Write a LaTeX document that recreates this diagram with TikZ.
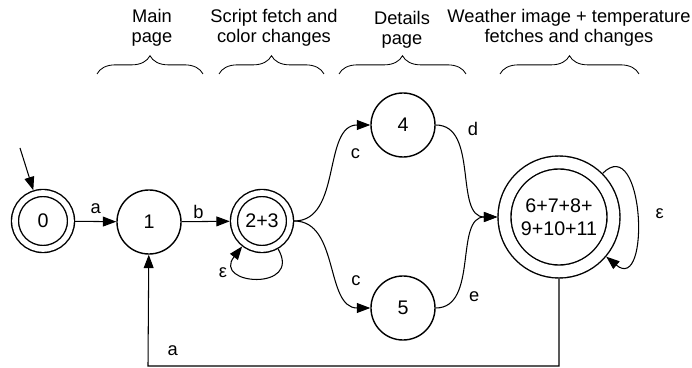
\documentclass[tikz,border=0pt]{standalone}
\usepackage{fontspec}
\setmainfont{Liberation Sans}
\usetikzlibrary{arrows.meta,decorations.pathreplacing}

\begin{document}
\begin{tikzpicture}[x=0.025cm, y=0.025cm,
		>={Triangle[length=9.5pt,width=7pt]},
		node_style/.style={circle,draw=black,line width=1pt,minimum size=1.6cm,inner sep=0pt,font=\fontsize{14}{16.5}\selectfont},
		accept_style/.style={node_style,double,double distance=4pt,minimum size=1.4cm,outer sep=3pt},
		edge_style/.style={draw=black,line width=0.75pt,->},
		label_style/.style={font=\fontsize{13}{15}\selectfont,inner sep=2pt},
		brace_style/.style={draw=black,line width=0.6pt,decorate,decoration={brace,amplitude=13pt}},
		head_style/.style={align=center,inner sep=0pt,font=\fontsize{13}{14.3}\selectfont}]

		\useasboundingbox (0,0) rectangle (692,368);

		% states
		\node[accept_style] (s0) at (43,147)  {0};
		\node[node_style] (s1) at (149,146)  {1};
		\node[accept_style] (s23) at (262,147)  {2+3};
		\node[node_style] (s4) at (403,243)  {4};
		\node[node_style] (s5) at (403,60)  {5};
		\node[accept_style,minimum size=2.725cm,double distance=8.2pt,outer sep=5.1pt,align=center] (s6) at (559,151)  {6+7+8+\\9+10+11};
		\coordinate (start) at (20,220);
		\coordinate (back) at (148,2);

		% headings
		\node[head_style] (h1) at (152,340) {Main\\page};
		\node[head_style] (h2) at (274,340) {Script fetch and\\color changes};
		\node[head_style] (h3) at (402,338) {Details\\page};
		\node[head_style] (h4) at (569,340) {Weather image + temperature\\fetches and changes};
		\draw[brace_style] (97,294) -- (203,294);
		\draw[brace_style] (219,294) -- (324,294);
		\draw[brace_style] (339,294) -- (466,294);
		\draw[brace_style] (500,294) -- (639,294);

		% transitions
		\draw[edge_style]  (start) -- (s0);
		\draw[edge_style]  (s0) edge node[label_style,above=3.5pt]{a} (s1);
		\draw[edge_style]  (s1) edge node[label_style,pos=0.35,above=0pt]{b} (s23);
		\draw[edge_style]  (s23) edge[out=-60,in=-128,looseness=3.5] node[label_style,pos=0.85,anchor=north east,xshift=-4pt,yshift=-2pt]{ε} (s23);
		\draw[edge_style]  (s23) edge[out=0,in=180] node[label_style,pos=0.7,below right,xshift=4pt]{c} (s4);
		\draw[edge_style]  (s23) edge[out=0,in=180] node[label_style,pos=0.7,above right,xshift=4pt]{c} (s5);
		\draw[edge_style]  (s4) edge[out=0,in=180] node[label_style,pos=0.25,above right,xshift=5pt]{d} (s6);
		\draw[edge_style]  (s5) edge[out=0,in=180] node[label_style,pos=0.25,right=6pt,yshift=-2pt]{e} (s6);
		\draw[edge_style]  (s6) edge[out=45,in=-40,looseness=1.8] node[label_style,right=11pt]{ε} (s6);
		\draw[edge_style]  (s6) |- node[label_style,pos=0.97,above=5pt]{a} (back) -- (s1);
\end{tikzpicture}
\end{document}
